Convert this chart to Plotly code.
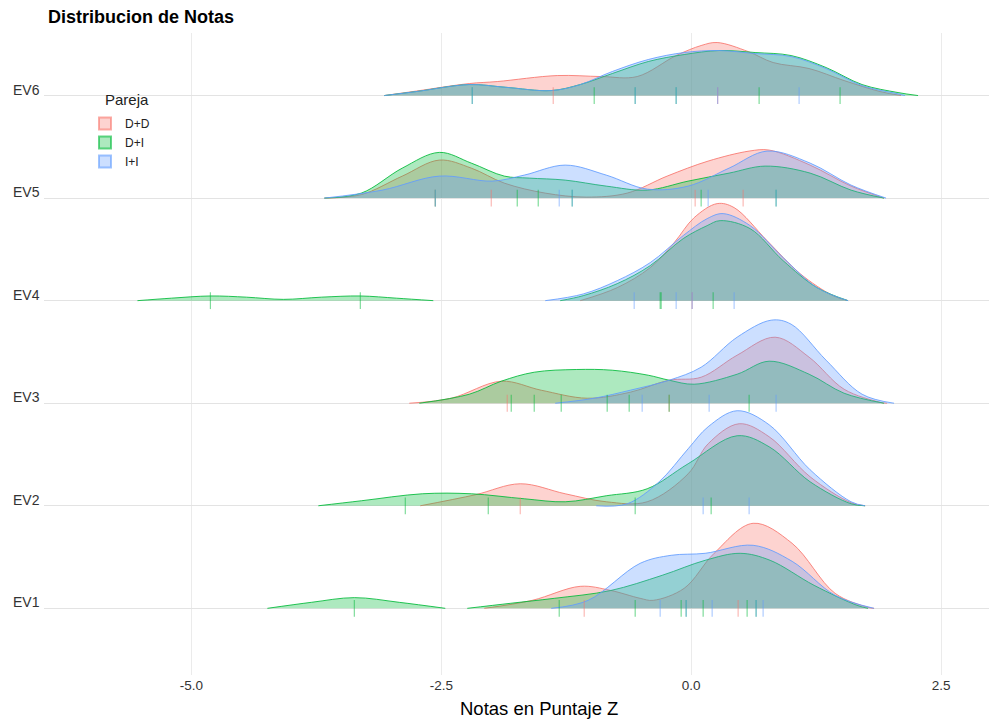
import plotly.graph_objects as go

# ---------------- data ----------------
rows = ["EV1", "EV2", "EV3", "EV4", "EV5", "EV6"]
groups = ["D+D", "D+I", "I+I"]
x_ticks = [-5.0, -2.5, 0.0, 2.5]
x_tick_labels = ["-5.0", "-2.5", "0.0", "2.5"]

# scaled density heights (display units, 102.5 = one ridge spacing)
ROW_UNITS = 102.5

# EV6
ev6_dd_x = [-3.07, -2.75, -2.22, -1.94, -1.34, -0.90, -0.54, -0.15, 0.10, 0.26, 0.57, 0.82, 1.18, 1.53, 1.89, 2.10]
ev6_dd_d = [0, 4.5, 12, 14, 20, 19, 19, 40, 50, 53, 44, 33, 27, 15, 4, 0]
ev6_di_x = [-3.07, -2.75, -2.22, -1.86, -1.40, -1.11, -0.79, -0.43, -0.07, 0.28, 0.64, 1.00, 1.35, 1.71, 2.07, 2.27]
ev6_di_d = [0, 4, 11, 8.3, 5, 11, 22, 34, 41, 45, 43, 40, 28, 11, 3, 0]
ev6_ii_x = [-3.07, -2.75, -2.22, -1.86, -1.40, -1.11, -0.79, -0.43, -0.07, 0.28, 0.64, 1.00, 1.35, 1.71, 2.07, 2.14]
ev6_ii_d = [0, 4, 11, 8.3, 5, 11, 24, 36, 43, 45, 42, 39, 27, 10, 1.7, 0]

# EV5
ev5_dd_x = [-3.67, -3.30, -2.89, -2.52, -2.20, -1.87, -1.46, -1.05, -0.64, -0.24, 0.17, 0.58, 0.78, 1.19, 1.60, 1.93]
ev5_dd_d = [0, 3.5, 22, 38, 30, 15, 5, 1, 5, 22, 37, 47, 48, 33, 12, 0]
ev5_di_x = [-3.67, -3.30, -2.89, -2.52, -2.20, -1.87, -1.62, -1.26, -0.85, -0.44, -0.03, 0.38, 0.74, 1.19, 1.60, 1.93]
ev5_di_d = [0, 5, 30, 45.7, 35, 22, 20, 18, 12, 8, 17, 25, 32, 25, 8, 0]
ev5_ii_x = [-3.67, -3.09, -2.52, -1.99, -1.67, -1.26, -0.85, -0.44, -0.03, 0.38, 0.76, 1.19, 1.60, 1.95]
ev5_ii_d = [0, 8, 22, 17, 23, 33, 23, 9, 12, 30, 47, 35, 13, 0]

# EV4
ev4_dd_x = [-1.11, -0.74, -0.41, -0.17, 0.03, 0.26, 0.43, 0.76, 1.09, 1.42, 1.57]
ev4_dd_d = [0, 13, 33, 58, 83, 97, 93, 60, 27, 5, 0]
ev4_di_low_x = [-5.54, -5.20, -4.81, -4.45, -4.08, -3.70, -3.31, -2.95, -2.58]
ev4_di_low_d = [0, 2.5, 4.7, 3.5, 1.3, 3.5, 4.7, 2.5, 0]
ev4_di_x = [-1.31, -1.08, -0.74, -0.41, -0.08, 0.16, 0.29, 0.59, 0.92, 1.26, 1.57]
ev4_di_d = [0, 5, 17, 35, 62, 75, 80, 72, 40, 13, 0]
ev4_ii_x = [-1.46, -1.08, -0.74, -0.41, -0.08, 0.16, 0.32, 0.59, 0.92, 1.26, 1.57]
ev4_ii_d = [0, 6.7, 20, 38, 65, 82, 87, 75, 43, 13, 0]

# EV3
ev3_dd_x = [-2.82, -2.40, -1.90, -1.50, -1.04, -0.61, -0.22, 0.10, 0.46, 0.84, 1.18, 1.53, 1.89, 1.96]
ev3_dd_d = [0, 5, 22, 13, 5, 11, 23, 26, 48, 66, 46, 14, 1, 0]
ev3_di_x = [-2.72, -2.22, -1.90, -1.57, -1.15, -0.79, -0.43, -0.22, 0.03, 0.46, 0.78, 1.18, 1.53, 1.93]
ev3_di_d = [0, 9, 22, 31, 33.7, 33, 28, 23, 19, 29, 42, 29, 10, 0]
ev3_ii_x = [-1.36, -0.97, -0.61, -0.22, 0.10, 0.46, 0.80, 1.00, 1.35, 1.71, 2.03]
ev3_ii_d = [0, 5, 13, 23, 36, 66, 83, 79, 43, 9, 0]

# EV2
ev2_dd_x = [-2.71, -2.16, -1.71, -1.26, -0.85, -0.44, -0.03, 0.17, 0.48, 0.78, 1.19, 1.60, 1.74]
ev2_dd_d = [0, 11, 22, 12, 4, 4, 32, 62, 82, 69, 29, 3, 0]
ev2_di_x = [-3.73, -3.30, -2.69, -2.20, -1.67, -1.26, -0.85, -0.44, -0.03, 0.46, 0.78, 1.19, 1.60, 1.74]
ev2_di_d = [0, 5, 12, 12, 7, 4, 10, 17, 42, 70, 59, 24, 2, 0]
ev2_ii_x = [-0.95, -0.64, -0.32, -0.03, 0.17, 0.46, 0.78, 1.19, 1.60, 1.74]
ev2_ii_d = [0, 2, 24, 57, 79, 95, 81, 36, 4, 0]

# EV1
ev1_dd_x = [-2.07, -1.59, -1.11, -0.81, -0.51, -0.38, -0.07, 0.23, 0.62, 1.01, 1.44, 1.77, 1.83]
ev1_dd_d = [0, 8, 22, 18, 10, 8, 20, 55, 85, 65, 15, 1, 0]
ev1_di_low_x = [-4.24, -3.80, -3.37, -2.92, -2.46]
ev1_di_low_d = [0, 6, 10.7, 6, 0]
ev1_di_x = [-2.24, -1.81, -1.37, -0.81, -0.29, 0.14, 0.49, 0.79, 1.23, 1.66, 1.77]
ev1_di_d = [0, 5, 10, 17.7, 33, 48, 55, 48, 23, 3, 0]
ev1_ii_x = [-1.40, -1.03, -0.51, -0.20, 0.14, 0.62, 1.01, 1.44, 1.83]
ev1_ii_d = [0, 8, 45, 53, 55, 63, 47, 13, 0]

# rug (individual scores)
ev6_dd_rug = [-1.38, 0.265]
ev6_di_rug = [-2.19, -0.97, -0.56, -0.15, 0.68, 1.49]
ev6_ii_rug = [-2.19, -0.56, -0.15, 0.265, 1.08]
ev5_dd_rug = [-2.56, -2.00, 0.04, 0.52]
ev5_di_rug = [-2.56, -1.74, -1.53, -1.19, 0.10, 0.85]
ev5_ii_rug = [-2.56, -1.32, -1.19, 0.17, 0.85]
ev4_dd_rug = [0.01]
ev4_di_rug = [-4.81, -3.31, -0.31, -0.30, 0.22]
ev4_ii_rug = [-0.57, -0.15, 0.01, 0.43]
ev3_dd_rug = [-1.84, -0.22]
ev3_di_rug = [-1.80, -1.57, -1.30, -0.84, -0.62, -0.22, 0.58]
ev3_ii_rug = [-0.49, 0.18, 0.85]
ev2_dd_rug = [-1.71]
ev2_di_rug = [-2.86, -2.03, -0.56, 0.20]
ev2_ii_rug = [0.12, 0.58]
ev1_dd_rug = [-1.07, 0.47]
ev1_di_rug = [-3.37, -1.32, -0.56, -0.10, -0.05, 0.12, 0.56, 0.65]
ev1_ii_rug = [-0.31, -0.05, 0.21, 0.65, 0.72]

# ---------------- figure ----------------
rgb = {"D+D": "248,118,109", "D+I": "0,186,56", "I+I": "97,156,255"}
FONT = "Liberation Sans, Arial, sans-serif"
W, H = 989, 719
ML, MR, MT, MB = 44, 0, 33, 44
PW, PH = W - ML - MR, H - MT - MB

curves = [
    ("EV6", "D+D", ev6_dd_x, ev6_dd_d), ("EV6", "D+I", ev6_di_x, ev6_di_d), ("EV6", "I+I", ev6_ii_x, ev6_ii_d),
    ("EV5", "D+D", ev5_dd_x, ev5_dd_d), ("EV5", "D+I", ev5_di_x, ev5_di_d), ("EV5", "I+I", ev5_ii_x, ev5_ii_d),
    ("EV4", "D+D", ev4_dd_x, ev4_dd_d), ("EV4", "D+I", ev4_di_low_x, ev4_di_low_d),
    ("EV4", "D+I", ev4_di_x, ev4_di_d), ("EV4", "I+I", ev4_ii_x, ev4_ii_d),
    ("EV3", "D+D", ev3_dd_x, ev3_dd_d), ("EV3", "D+I", ev3_di_x, ev3_di_d), ("EV3", "I+I", ev3_ii_x, ev3_ii_d),
    ("EV2", "D+D", ev2_dd_x, ev2_dd_d), ("EV2", "D+I", ev2_di_x, ev2_di_d), ("EV2", "I+I", ev2_ii_x, ev2_ii_d),
    ("EV1", "D+D", ev1_dd_x, ev1_dd_d), ("EV1", "D+I", ev1_di_low_x, ev1_di_low_d),
    ("EV1", "D+I", ev1_di_x, ev1_di_d), ("EV1", "I+I", ev1_ii_x, ev1_ii_d),
]
rugs = [
    ("EV6", "D+D", ev6_dd_rug), ("EV6", "D+I", ev6_di_rug), ("EV6", "I+I", ev6_ii_rug),
    ("EV5", "D+D", ev5_dd_rug), ("EV5", "D+I", ev5_di_rug), ("EV5", "I+I", ev5_ii_rug),
    ("EV4", "D+D", ev4_dd_rug), ("EV4", "D+I", ev4_di_rug), ("EV4", "I+I", ev4_ii_rug),
    ("EV3", "D+D", ev3_dd_rug), ("EV3", "D+I", ev3_di_rug), ("EV3", "I+I", ev3_ii_rug),
    ("EV2", "D+D", ev2_dd_rug), ("EV2", "D+I", ev2_di_rug), ("EV2", "I+I", ev2_ii_rug),
    ("EV1", "D+D", ev1_dd_rug), ("EV1", "D+I", ev1_di_rug), ("EV1", "I+I", ev1_ii_rug),
]

fig = go.Figure()

for row, grp, xs, ds in curves:
    base = rows.index(row) + 1
    fig.add_trace(go.Scatter(x=[xs[0], xs[-1]], y=[base, base], mode="lines",
                             line=dict(width=0, color="rgba(0,0,0,0)"),
                             hoverinfo="skip", showlegend=False))
    fig.add_trace(go.Scatter(x=xs, y=[base + d / ROW_UNITS for d in ds], mode="lines",
                             line=dict(color=f"rgba({rgb[grp]},0.85)", width=1, shape="spline", smoothing=1),
                             fill="tonexty", fillcolor=f"rgba({rgb[grp]},0.32)",
                             hoverinfo="skip", showlegend=False))

for row, grp, xs in rugs:
    base = rows.index(row) + 1
    fig.add_trace(go.Scatter(x=xs, y=[base] * len(xs), mode="markers",
                             marker=dict(symbol="line-ns", size=12, color=f"rgba({rgb[grp]},0.5)",
                                         line=dict(color=f"rgba({rgb[grp]},0.5)", width=1.2)),
                             hoverinfo="skip", showlegend=False))

for grp in groups:
    fig.add_trace(go.Scatter(x=[None], y=[None], mode="markers", name=grp,
                             marker=dict(symbol="square", size=15, color=f"rgba({rgb[grp]},0.32)",
                                         line=dict(color=f"rgba({rgb[grp]},0.6)", width=1))))

for i, r in enumerate(rows):
    fig.add_annotation(x=0, xref="paper", y=i + 1, yref="y", text=r, showarrow=False,
                       xanchor="right", yanchor="bottom", xshift=-2, yshift=-4,
                       font=dict(family=FONT, size=14, color="#333333"))

# legend title and x-axis title as annotations (pixel placement)
fig.add_annotation(x=(103 - ML) / PW, xref="paper", y=1 - (100 - MT) / PH, yref="paper",
                   text="Pareja", showarrow=False, xanchor="left", yanchor="middle",
                   font=dict(family=FONT, size=15, color="#222222"))
fig.add_annotation(x=(458 - ML) / PW, xref="paper", y=-(708 - (H - MB)) / PH, yref="paper",
                   text="Notas en Puntaje Z", showarrow=False, xanchor="left", yanchor="middle",
                   font=dict(family=FONT, size=18.5, color="black"))

fig.update_layout(
    width=W, height=H,
    margin=dict(l=ML, r=MR, t=MT, b=MB),
    paper_bgcolor="white", plot_bgcolor="white",
    font=dict(family=FONT, color="#333333"),
    title=dict(text="<b>Distribucion de Notas</b>", x=48 / W, xanchor="left", xref="container",
               y=1 - 17 / H, yanchor="middle", yref="container",
               font=dict(size=18, color="black")),
    xaxis=dict(range=[-6.475, 2.98], tickvals=x_ticks, ticktext=x_tick_labels,
               showgrid=True, gridcolor="#EBEBEB", gridwidth=1, zeroline=False, showline=False,
               ticks="", tickfont=dict(size=13.5, color="#333333")),
    yaxis=dict(range=[0.35, 6.61], tickvals=[1, 2, 3, 4, 5, 6], showticklabels=False,
               showgrid=True, gridcolor="#E3E3E3", gridwidth=1.3, zeroline=False, showline=False, ticks=""),
    legend=dict(x=(85 - ML) / PW, xanchor="left", y=1 - (109 - MT) / PH, yanchor="top",
                bgcolor="rgba(0,0,0,0)", traceorder="normal",
                font=dict(size=12, color="#222222"), tracegroupgap=0, itemsizing="constant"),
)

fig.write_html("out.html")
